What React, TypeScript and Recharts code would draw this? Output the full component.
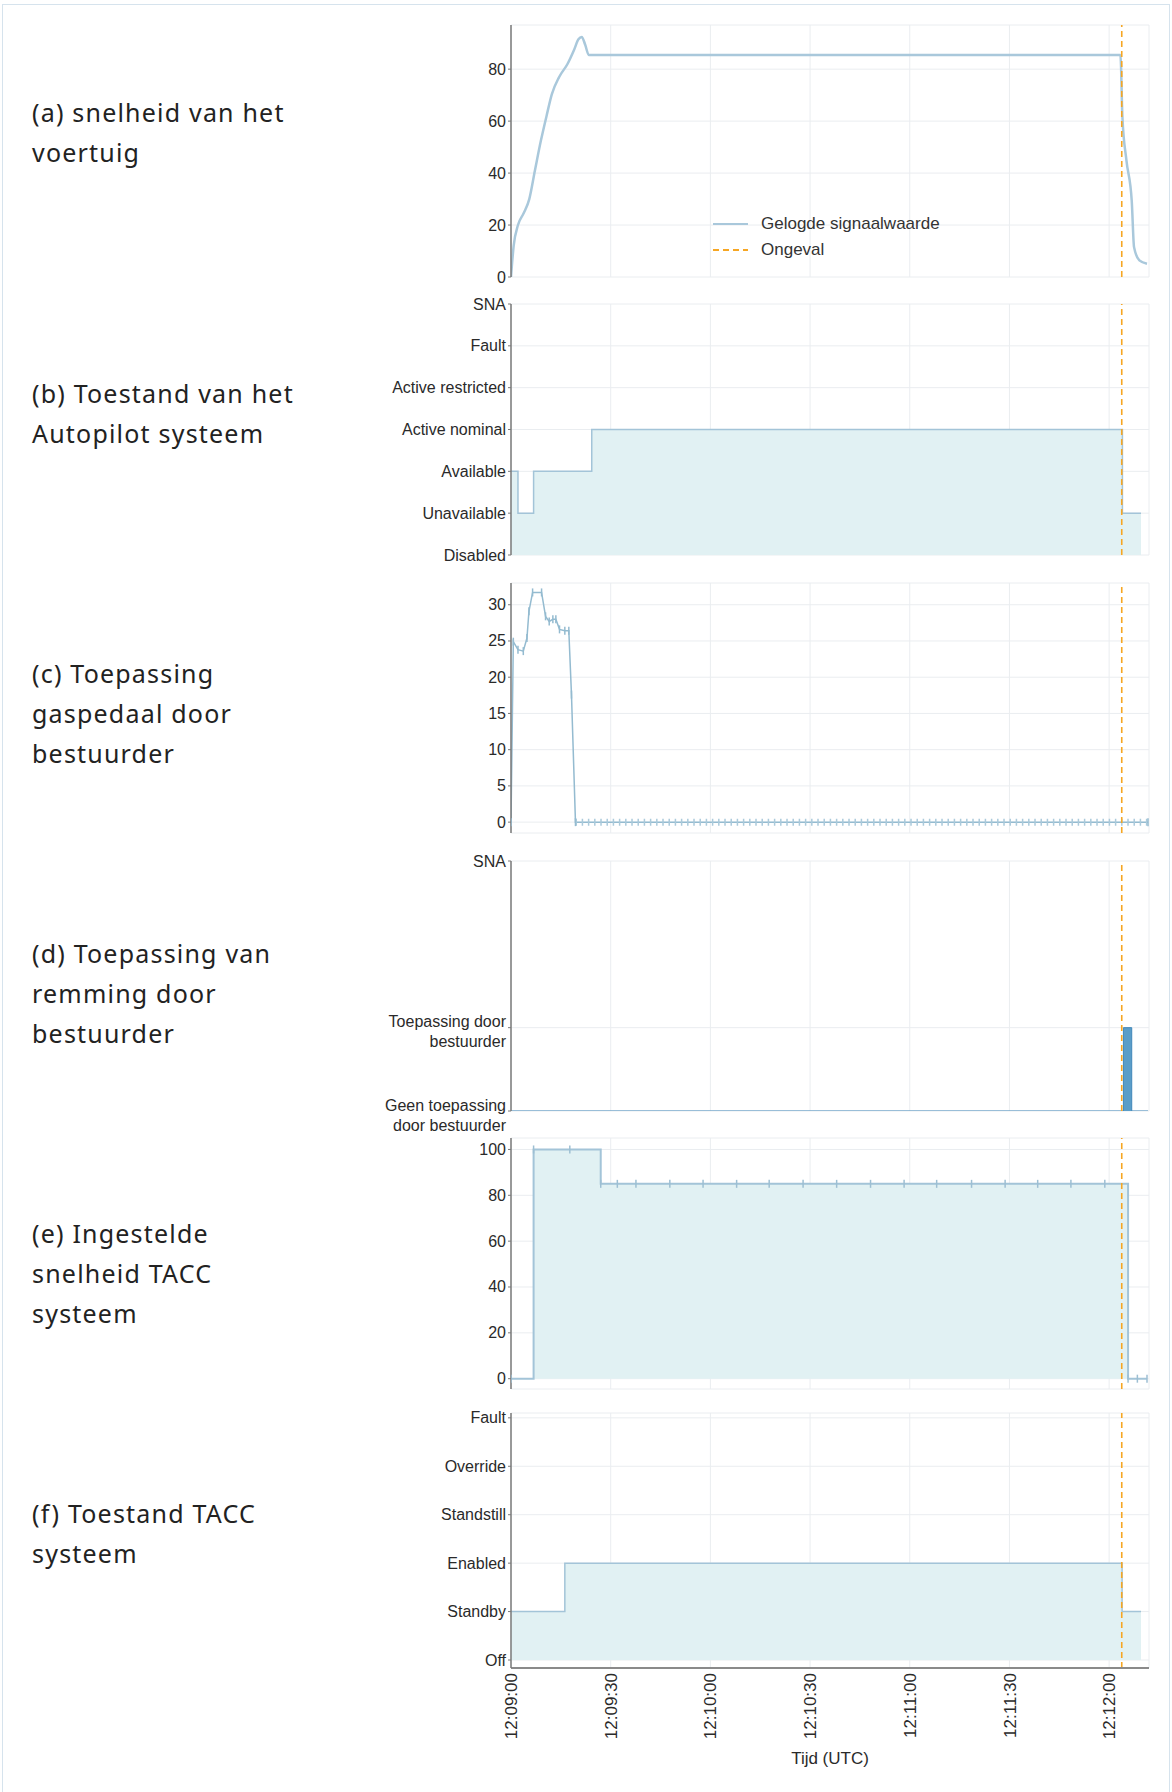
import React from 'react';
import { ComposedChart, Line, Area, XAxis, YAxis, CartesianGrid, ReferenceLine, Legend } from 'recharts';

// time axis (seconds after 12:09:00)
const timeTicks = [0, 30, 60, 90, 120, 150, 180];
const timeLabels = ['12:09:00', '12:09:30', '12:10:00', '12:10:30', '12:11:00', '12:11:30', '12:12:00'];
const accidentT = 183.8;

// (a) snelheid
const speedT = [0, 0.8, 2.1, 3.8, 5.5, 7.2, 9.0, 10.7, 12.3, 14.5, 17, 19, 20.3, 21.3, 22.3, 23.4, 183.4, 184.0, 185.2, 186.8, 187.5, 189.1, 191.4];
const speedV = [0, 12, 20, 24.5, 30, 41, 52.5, 62, 70.4, 77, 82, 87.5, 91.5, 92.4, 89.5, 85.5, 85.5, 61.5, 45, 29.4, 11.5, 6.4, 5.1];

// (b) autopilot state
const apLevels = ['Disabled', 'Unavailable', 'Available', 'Active nominal', 'Active restricted', 'Fault', 'SNA'];
const apT = [0, 2.1, 6.8, 24.3, 184.0, 189.6];
const apV = [2, 1, 2, 3, 1, 1];

// (c) gaspedaal
const gasT = [0, 0.7, 2.1, 3.7, 4.8, 5.4, 6.5, 9.2, 10.4, 11.5, 12.6, 13.5, 14.6, 16.2, 17.4, 18.2, 19.4, 191.7];
const gasV = [0, 24.9, 23.8, 23.6, 25.4, 29.1, 31.7, 31.7, 28.4, 27.7, 28.0, 28.0, 26.6, 26.4, 26.4, 17.6, 0, 0];
const gasIdleFrom = 19.4;

// (d) remming
const brakeLabels: Record<number, string> = { 0: 'Geen toepassing\ndoor bestuurder', 1: 'Toepassing door\nbestuurder', 3: 'SNA' };
const brakeT = [0, 184.3, 186.8, 191.7];
const brakeV = [0, 1, 0, 0];

// (e) ingestelde snelheid
const setT = [0, 6.8, 17.7, 27.0, 32.0, 37.6, 47.8, 57.8, 67.9, 77.7, 87.9, 98.0, 108.2, 118.3, 128.1, 138.6, 148.7, 158.5, 168.5, 178.7, 185.7, 188.5, 191.4];
const setV = [0, 100, 100, 85, 85, 85, 85, 85, 85, 85, 85, 85, 85, 85, 85, 85, 85, 85, 85, 85, 0, 0, 0];

// (f) TACC state
const taccLevels = ['Off', 'Standby', 'Enabled', 'Standstill', 'Override', 'Fault'];
const taccT = [0, 16.2, 183.9, 189.6];
const taccV = [1, 2, 1, 1];

const panelTitles = [
  ['(a) snelheid van het', 'voertuig'],
  ['(b) Toestand van het', 'Autopilot systeem'],
  ['(c) Toepassing', 'gaspedaal door', 'bestuurder'],
  ['(d) Toepassing van', 'remming door', 'bestuurder'],
  ['(e) Ingestelde', 'snelheid TACC', 'systeem'],
  ['(f) Toestand TACC', 'systeem'],
];
const titleBaselines = [122, 403, 683, 963, 1243, 1523];

const legendItems = [
  { name: 'Gelogde signaalwaarde', color: '#a9c8db', dash: undefined as string | undefined },
  { name: 'Ongeval', color: '#f6a623', dash: '6 4' },
];

const rows = (ts: number[], vs: number[]) => ts.map((t, i) => ({ t, v: vs[i] }));

const W = 1172;
const PLOT_LEFT = 511;
const PLOT_RIGHT = 1149;
const M = 12;
const FONT = '"Liberation Sans", Arial, sans-serif';
const ORANGE = '#f6a623';
const FILL = '#e1f1f3';
const STEP = '#a3c4d8';
const GRID = '#eaedf0';

const YTick = (props: any) => {
  const { x, y, payload, fmt } = props;
  const lines = String(fmt ? fmt(payload.value) : payload.value).split('\n');
  return (
    <text x={x} y={y} textAnchor="end" fontSize={16} fill="#2a2a2a" fontFamily={FONT}>
      {lines.map((l, i) => (
        <tspan key={i} x={x} dy={i === 0 ? (lines.length > 1 ? -0.5 : 5.5) : 20}>{l}</tspan>
      ))}
    </text>
  );
};

const TimeTick = (props: any) => {
  const { x, y, payload } = props;
  const idx = timeTicks.indexOf(payload.value);
  return (
    <text x={x} y={y} transform={`rotate(-90 ${x} ${y})`} textAnchor="end" dy="0.36em" fontSize={17} fill="#2a2a2a" fontFamily={FONT}>
      {timeLabels[idx]}
    </text>
  );
};

const NoTick = () => <g />;

const markDot = (color: string) => (p: any) => {
  if (p.cx == null || p.cy == null) return <g key={p.key} />;
  return <line key={p.key} x1={p.cx} x2={p.cx} y1={p.cy - 4} y2={p.cy + 4} stroke={color} strokeWidth={1.5} />;
};

const LegendBox = () => (
  <div style={{ fontFamily: FONT, fontSize: 17, color: '#333' }}>
    {legendItems.map((it) => (
      <div key={it.name} style={{ display: 'flex', alignItems: 'center', height: 26 }}>
        <svg width={35} height={26}>
          <line x1={0} x2={35} y1={13} y2={13} stroke={it.color} strokeWidth={2} strokeDasharray={it.dash} />
        </svg>
        <span style={{ marginLeft: 13 }}>{it.name}</span>
      </div>
    ))}
  </div>
);

function axes(domain: number[], ticks: number[], fmt: ((v: number) => string) | undefined, showTime: boolean, axisW: number, axisC: string) {
  return [
    <CartesianGrid key="g" stroke={GRID} strokeWidth={1} />,
    <XAxis
      key="x"
      type="number"
      dataKey="t"
      domain={[0, 192]}
      ticks={timeTicks}
      interval={0}
      allowDataOverflow
      height={showTime ? 96 : 0}
      axisLine={{ stroke: axisC, strokeWidth: axisW }}
      tickLine={false}
      tickSize={0}
      tickMargin={5}
      tick={showTime ? (p: any) => <TimeTick {...p} /> : NoTick}
      label={showTime ? { value: 'Tijd (UTC)', position: 'insideBottom', offset: 0, fontSize: 17, fill: '#2a2a2a', fontFamily: FONT } : undefined}
    />,
    <YAxis
      key="y"
      type="number"
      domain={domain}
      ticks={ticks}
      interval={0}
      allowDataOverflow
      width={PLOT_LEFT}
      axisLine={{ stroke: '#7a7a7a', strokeWidth: 1.5 }}
      tickLine={{ stroke: '#7a7a7a' }}
      tickSize={3}
      tickMargin={2}
      tick={(p: any) => <YTick {...p} fmt={fmt} />}
    />,
  ];
}

const accident = <ReferenceLine key="acc" x={accidentT} stroke={ORANGE} strokeWidth={1.6} strokeDasharray="6 4" />;

function frame(top: number, bottom: number, xh: number, mb: number) {
  const h = bottom - top + M + mb + xh;
  return {
    h,
    margin: { top: M, right: W - PLOT_RIGHT, bottom: mb, left: 0 },
    style: { position: 'absolute' as const, left: 0, top: top - M, width: W, height: h },
  };
}

export default function App() {
  const fa = frame(25, 277, 0, M);
  const fb = frame(304, 555, 0, M);
  const fc = frame(583, 833, 0, M);
  const fd = frame(861, 1111, 0, 30);
  const fe = frame(1138, 1389, 0, M);
  const ff = frame(1413, 1668, 96, M);
  const gasRows = gasT.map((t, i) => ({ t, v: gasV[i], z: t >= gasIdleFrom ? gasV[i] : undefined }));

  return (
    <div style={{ position: 'absolute', left: 0, top: 0, width: W, height: 1792, background: '#fff', overflow: 'hidden' }}>
      <div style={{ position: 'absolute', left: 2, top: 4, width: W - 6, height: 1800, borderTop: '1px solid #d6e3ed', borderLeft: '1px solid #d6e3ed', borderRight: '1px solid #d6e3ed' }} />
      <svg style={{ position: 'absolute', left: 0, top: 0 }} width={500} height={1792}>
        {panelTitles.map((lines, k) => (
          <text key={k} x={32} y={titleBaselines[k]} fontSize={25} fill="#222" fontFamily='"Noto Sans", sans-serif' letterSpacing={1.2}>
            {lines.map((l, i) => (
              <tspan key={i} x={32} dy={i === 0 ? 0 : 40}>{l}</tspan>
            ))}
          </text>
        ))}
      </svg>

      <div style={fa.style}>
        <ComposedChart width={W} height={fa.h} data={rows(speedT, speedV)} margin={fa.margin}>
          {axes([0, 97], [0, 20, 40, 60, 80], undefined, false, 2, '#8a8a8a')}
          <Line type="monotone" dataKey="v" stroke="#a9c8db" strokeWidth={2.5} dot={false} isAnimationActive={false} />
          {accident}
          <Legend
            layout="vertical"
            align="center"
            verticalAlign="middle"
            content={() => <LegendBox />}
            wrapperStyle={{ left: 713, top: 198, width: 260 }}
          />
        </ComposedChart>
      </div>

      <div style={fb.style}>
        <ComposedChart width={W} height={fb.h} data={rows(apT, apV)} margin={fb.margin}>
          {axes([0, 6], [0, 1, 2, 3, 4, 5, 6], (v) => apLevels[v], false, 2, '#8a8a8a')}
          <Area type="stepAfter" dataKey="v" stroke={STEP} strokeWidth={1.5} fill={FILL} fillOpacity={1} dot={false} isAnimationActive={false} />
          {accident}
        </ComposedChart>
      </div>

      <div style={fc.style}>
        <ComposedChart width={W} height={fc.h} data={gasRows} margin={fc.margin}>
          {axes([-1.5, 33], [0, 5, 10, 15, 20, 25, 30], undefined, false, 4, '#b0b0b0')}
          <Line type="linear" dataKey="v" stroke="#94bbd0" strokeWidth={1.5} dot={markDot('#94bbd0')} isAnimationActive={false} />
          <Line type="linear" dataKey="z" stroke="#abcadb" strokeWidth={7} strokeDasharray="1.5 4.7" dot={false} isAnimationActive={false} />
          {accident}
        </ComposedChart>
      </div>

      <div style={fd.style}>
        <ComposedChart width={W} height={fd.h} data={rows(brakeT, brakeV)} margin={fd.margin}>
          {axes([0, 3], [0, 1, 3], (v) => brakeLabels[v], false, 2, '#8a8a8a')}
          <Area type="stepAfter" dataKey="v" stroke="#3f87b9" strokeWidth={1} fill="#5a9dc8" fillOpacity={1} dot={false} isAnimationActive={false} />
          {accident}
        </ComposedChart>
      </div>

      <div style={fe.style}>
        <ComposedChart width={W} height={fe.h} data={rows(setT, setV)} margin={fe.margin}>
          {axes([-4.5, 105], [0, 20, 40, 60, 80, 100], undefined, false, 4, '#b0b0b0')}
          <Area type="stepAfter" dataKey="v" stroke={STEP} strokeWidth={2} fill={FILL} fillOpacity={1} dot={markDot('#9dbfd3')} isAnimationActive={false} />
          {accident}
        </ComposedChart>
      </div>

      <div style={ff.style}>
        <ComposedChart width={W} height={ff.h} data={rows(taccT, taccV)} margin={ff.margin}>
          {axes([-0.165, 5.1], [0, 1, 2, 3, 4, 5], (v) => taccLevels[v], true, 2, '#8a8a8a')}
          <Area type="stepAfter" dataKey="v" stroke={STEP} strokeWidth={1.5} fill={FILL} fillOpacity={1} dot={false} isAnimationActive={false} />
          {accident}
        </ComposedChart>
      </div>
    </div>
  );
}
